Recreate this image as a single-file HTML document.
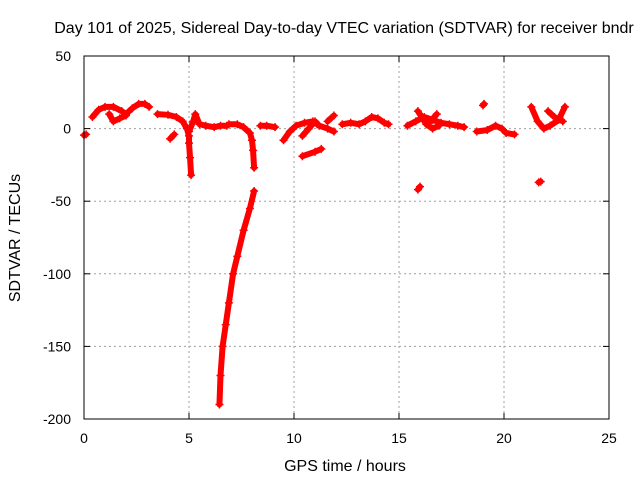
<!DOCTYPE html>
<html><head><meta charset="utf-8"><style>
html,body{margin:0;padding:0;background:#fff}
svg text{font-family:"Liberation Sans",sans-serif;font-size:14px;fill:#000}
svg text.big{font-size:16px}
</style></head><body>
<svg id="chart" width="640" height="480" xmlns="http://www.w3.org/2000/svg">
<rect width="640" height="480" fill="#fff"/>
<text class="big" x="344" y="33" text-anchor="middle">Day 101 of 2025, Sidereal Day-to-day VTEC variation (SDTVAR) for receiver bndr</text>
<text class="big" x="345" y="471" text-anchor="middle">GPS time / hours</text>
<text class="big" transform="translate(20,238) rotate(-90)" text-anchor="middle">SDTVAR / TECUs</text>
<g id="grid"></g>
<g id="series"></g>
<rect x="84" y="56" width="525" height="363" fill="none" stroke="#000" stroke-width="1"/>
<g id="ticks"></g>
</svg>
<script>
const xTicks=[0,5,10,15,20,25];
const yTicks=[50,0,-50,-100,-150,-200];
const seg1=[[0,-4.5],[0.1,-4]];
const seg2=[[0.4,8],[0.7,13],[1.0,15],[1.4,15],[1.8,12],[2.0,10],[2.3,14],[2.6,17],[2.9,17],[3.1,15]];
const seg3=[[1.2,10],[1.4,5],[1.7,7],[2.0,9]];
const seg4=[[3.5,10],[4.0,9.5],[4.4,8],[4.7,5],[4.9,0],[5.0,-5],[5.0,-10],[5.05,-20],[5.1,-32]];
const seg5=[[5.0,-2],[5.2,5],[5.3,10],[5.5,3],[5.8,2],[6.2,1],[6.5,2],[6.8,2]];
const seg6=[[4.1,-7],[4.3,-4]];
const seg7=[[6.9,3],[7.3,3],[7.6,1],[7.9,-3],[8.0,-8],[8.05,-15],[8.1,-27]];
const seg8=[[8.1,-43],[7.9,-55],[7.6,-70],[7.3,-88],[7.1,-100],[6.9,-120],[6.75,-135],[6.6,-150],[6.5,-170],[6.45,-190]];
const seg9=[[8.4,2],[8.7,2],[9.1,1]];
const seg10=[[9.5,-8],[9.8,-2],[10.1,2],[10.5,4],[10.9,5],[11.1,3]];
const seg11=[[10.4,-5],[10.7,0],[11.0,5],[11.2,2],[11.6,0],[11.9,-2]];
const seg12=[[10.4,-19],[11.0,-16],[11.3,-14]];
const seg13=[[11.6,5],[11.9,9]];
const seg14=[[12.3,3],[12.7,4],[13.1,3],[13.4,5],[13.7,8],[14.0,7],[14.3,4],[14.5,3]];
const seg15=[[15.4,2],[15.8,5],[16.2,8],[16.6,6],[17.0,4],[17.4,3],[17.8,2],[18.1,1]];
const seg16=[[15.9,12],[16.3,3],[16.6,0],[16.9,2]];
const seg17=[[16.8,10],[16.5,5]];
const seg18=[[18.7,-2],[19.2,-1],[19.6,2],[19.9,0],[20.1,-3],[20.5,-4]];
const seg19=[[21.3,15],[21.6,5],[21.9,0],[22.2,2],[22.6,6],[22.9,15]];
const seg20=[[22.1,12],[22.4,8],[22.8,5]];
const seg21=[[19.0,16],[19.05,17]];
const seg22=[[15.9,-42],[16.0,-40]];
const seg23=[[21.65,-37],[21.75,-36.5]];
const isolated=[];
const segments=[seg1,seg2,seg3,seg4,seg5,seg6,seg7,seg8,seg9,seg10,seg11,seg12,seg13,seg14,seg15,seg16,seg17,seg18,seg19,seg20,seg21,seg22,seg23];

const X=h=>84+h*21;
const Y=v=>128.6-v*1.452;
const NS="http://www.w3.org/2000/svg";
const mk=(t,a,p)=>{const e=document.createElementNS(NS,t);for(const k in a)e.setAttribute(k,a[k]);p.appendChild(e);return e;};
const grid=document.getElementById('grid'),ticks=document.getElementById('ticks'),ser=document.getElementById('series');
xTicks.forEach(t=>{
  if(t>0&&t<25){const l=mk('line',{x1:X(t),x2:X(t),y1:56,y2:419,stroke:'#a0a0a0','stroke-dasharray':'2,3'},grid);
  }
  mk('line',{x1:X(t),x2:X(t),y1:419,y2:413,stroke:'#000'},ticks);
  mk('line',{x1:X(t),x2:X(t),y1:56,y2:62,stroke:'#000'},ticks);
  const tx=mk('text',{x:X(t),y:443,'text-anchor':'middle'},ticks);tx.textContent=t;
  
});
yTicks.forEach(t=>{
  if(t<50&&t>-200){const l=mk('line',{x1:84,x2:609,y1:Y(t),y2:Y(t),stroke:'#a0a0a0','stroke-dasharray':'2,3'},grid);
  }
  mk('line',{x1:84,x2:90,y1:Y(t),y2:Y(t),stroke:'#000'},ticks);
  mk('line',{x1:603,x2:609,y1:Y(t),y2:Y(t),stroke:'#000'},ticks);
  const tx=mk('text',{x:71,y:Y(t)+5,'text-anchor':'end'},ticks);tx.textContent=t;
  
});
const plus=(h,v)=>{const x=X(h),y=Y(v);
  const p=mk('path',{d:`M${x-4} ${y}H${x+4}M${x} ${y-4}V${y+4}`,stroke:'#f00','stroke-width':1.5},ser);
  };
segments.forEach(s=>{
  const pl=mk('polyline',{points:s.map(p=>X(p[0])+','+Y(p[1])).join(' '),fill:'none',stroke:'#f00','stroke-width':6,'stroke-linejoin':'round','stroke-linecap':'round'},ser);
  
  s.forEach(p=>plus(p[0],p[1]));
});
isolated.forEach(p=>plus(p[0],p[1]));
</script>
</body></html>
